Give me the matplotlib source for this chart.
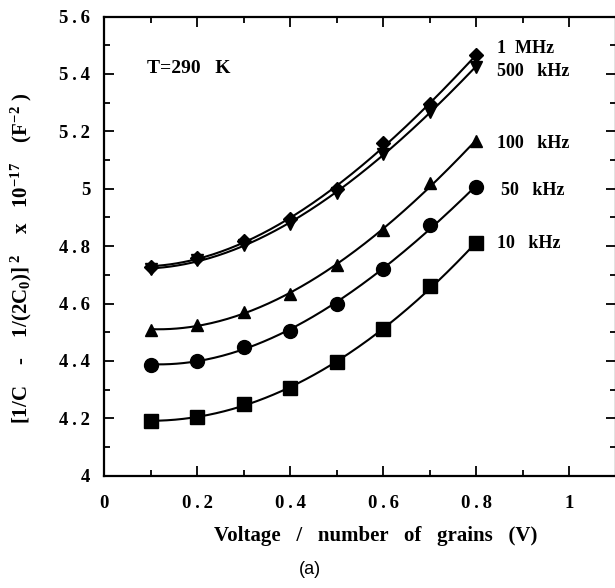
import matplotlib
matplotlib.use("Agg")
import matplotlib.pyplot as plt
import numpy as np
from matplotlib.ticker import MultipleLocator

# ---------------------------------------------------------------------------
# Data
# ---------------------------------------------------------------------------
voltage = [0.1, 0.2, 0.3, 0.4, 0.5, 0.6, 0.7, 0.8]

f_1mhz = [4.728, 4.757, 4.819, 4.893, 5.000, 5.158, 5.295, 5.466]
f_500khz = [4.720, 4.750, 4.805, 4.878, 4.984, 5.122, 5.268, 5.425]
f_100khz = [4.508, 4.525, 4.570, 4.633, 4.734, 4.856, 5.019, 5.165]
f_50khz = [4.386, 4.400, 4.450, 4.505, 4.598, 4.720, 4.873, 5.005]
f_10khz = [4.190, 4.205, 4.250, 4.305, 4.395, 4.510, 4.660, 4.810]

series_labels = ["1  MHz", "500   kHz", "100   kHz", "50   kHz", "10   kHz"]
label_y = [5.49, 5.41, 5.156, 4.995, 4.81]
label_x = [0.845, 0.845, 0.845, 0.852, 0.845]

x_ticks = [0, 0.2, 0.4, 0.6, 0.8, 1]
x_ticklabels = ["0", "0.2", "0.4", "0.6", "0.8", "1"]
y_ticks = [4, 4.2, 4.4, 4.6, 4.8, 5, 5.2, 5.4, 5.6]
y_ticklabels = ["4", "4.2", "4.4", "4.6", "4.8", "5", "5.2", "5.4", "5.6"]

THIN = "\u2009"


def _spaced(s):
    """Old typeset look: a thin gap between every character."""
    return THIN.join(s)


plt.rcParams["font.family"] = ["Liberation Serif", "DejaVu Serif"]
plt.rcParams["font.weight"] = "bold"
plt.rcParams["mathtext.fontset"] = "custom"
plt.rcParams["mathtext.rm"] = "Liberation Serif:bold"
plt.rcParams["mathtext.it"] = "Liberation Serif:bold"
plt.rcParams["mathtext.bf"] = "Liberation Serif:bold"

fig = plt.figure(figsize=(6.15, 5.88), dpi=100)
ax = fig.add_axes([104 / 615, 1 - 475.7 / 588, 512 / 615, 459.2 / 588])

series = [f_1mhz, f_500khz, f_100khz, f_50khz, f_10khz]
markers = ["D", "v", "^", "o", "s"]
msizes = [7.5, 9, 9, 10, 10]

xs = np.linspace(voltage[0], voltage[-1], 200)
for ys, mk, ms in zip(series, markers, msizes):
    # smooth trend line through the measured points (cubic fit)
    coef = np.polyfit(voltage, ys, 3)
    ax.plot(xs, np.polyval(coef, xs), color="black", lw=1.5)
    ax.plot(voltage, ys, linestyle="none", marker=mk, ms=ms,
            color="black", mec="black")

for lab, lx, ly in zip(series_labels, label_x, label_y):
    ax.text(lx, ly, lab, fontsize=13, fontweight="bold", va="center",
            ha="left")

ax.text(0.092, 5.42, "T=290   K", fontsize=14, fontweight="bold",
        va="center", ha="left")

ax.set_xlim(0, 1.1)
ax.set_ylim(4, 5.6)
ax.set_xticks(x_ticks)
ax.set_xticklabels([_spaced(t) for t in x_ticklabels])
ax.set_yticks(y_ticks)
ax.set_yticklabels([_spaced(t) for t in y_ticklabels])
ax.xaxis.set_minor_locator(MultipleLocator(0.1))
ax.yaxis.set_minor_locator(MultipleLocator(0.1))
ax.tick_params(which="both", direction="in", top=True, right=True,
               width=1.3, labelsize=13.5)
ax.tick_params(which="major", length=7.5)
ax.tick_params(which="minor", length=4)
ax.tick_params(axis="y", pad=10)
ax.tick_params(axis="x", pad=14)
for sp in ax.spines.values():
    sp.set_linewidth(1.6)

ax.set_xlabel("Voltage   /   number   of   grains   (V)", fontsize=15,
              fontweight="bold")
ax.xaxis.set_label_coords((376 - 104) / 512, -(526 - 475.7) / 459.2)
ax.set_ylabel(r"[1/C    -    1/(2C$_0$)]$^{\ 2}$    x   10$^{-17}$    (F$^{-2}$ )",
              fontsize=15, fontweight="bold")
ax.yaxis.set_label_coords(-(104 - 34) / 512, 1 - (258 - 16.5) / 459.2)

fig.text(310 / 615, 1 - 569 / 588, "(a)", fontsize=13,
         family=["Liberation Sans", "DejaVu Sans"], fontweight="normal",
         ha="center", va="center")

fig.savefig("out.png", dpi=100)
